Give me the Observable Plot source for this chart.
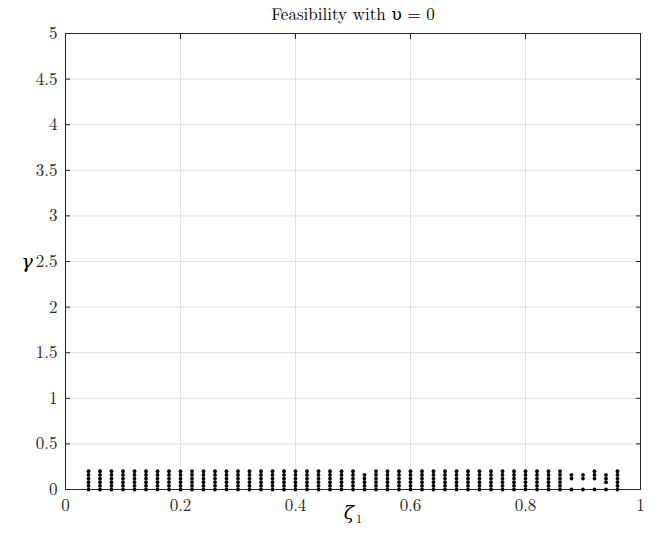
<!DOCTYPE html>
<html>
<head>
<meta charset="utf-8">
<script src="https://cdn.jsdelivr.net/npm/d3@7"></script>
<script src="https://cdn.jsdelivr.net/npm/@observablehq/plot@0.6"></script>
<style>
  html, body { margin: 0; padding: 0; background: #fff; }
  #chart svg { display: block; }
</style>
</head>
<body>
<div id="chart"></div>
<script>
// zeta_1 grid columns
const zeta = [0.04, 0.06, 0.08, 0.10, 0.12, 0.14, 0.16, 0.18, 0.20, 0.22, 0.24, 0.26,
  0.28, 0.30, 0.32, 0.34, 0.36, 0.38, 0.40, 0.42, 0.44, 0.46, 0.48, 0.50, 0.52, 0.54,
  0.56, 0.58, 0.60, 0.62, 0.64, 0.66, 0.68, 0.70, 0.72, 0.74, 0.76, 0.78, 0.80, 0.82,
  0.84, 0.86, 0.88, 0.90, 0.92, 0.94, 0.96];
// gamma levels that are feasible in a full column
const gammaFull = [0, 0.04, 0.08, 0.12, 0.16, 0.20];
// columns with only part of the levels feasible
const partialZeta = [0.52, 0.88, 0.90, 0.92, 0.94];
const partialGamma = [
  [0, 0.04, 0.08, 0.12, 0.16],
  [0, 0.12, 0.16],
  [0, 0.12, 0.16],
  [0, 0.12, 0.16, 0.20],
  [0, 0.08, 0.12, 0.16]
];
const xTicks = [0, 0.2, 0.4, 0.6, 0.8, 1];
const yTicks = [0, 0.5, 1, 1.5, 2, 2.5, 3, 3.5, 4, 4.5, 5];

const points = [];
for (const z of zeta) {
  const k = partialZeta.indexOf(z);
  const levels = k >= 0 ? partialGamma[k] : gammaFull;
  for (const g of levels) points.push({zeta: z, gamma: g});
}

const font = "'Latin Modern Roman', 'CMU Serif', 'DejaVu Serif', serif";
const noLabel = () => "";
const fmt = d => String(+d.toFixed(2));

const chart = Plot.plot({
  width: 659,
  height: 541,
  marginLeft: 65,
  marginRight: 19,
  marginTop: 33,
  marginBottom: 52,
  style: {fontFamily: font, fontSize: "17px", color: "#262626", background: "#fff"},
  x: {domain: [0, 1], label: null},
  y: {domain: [0, 5], label: null},
  marks: [
    Plot.gridX(xTicks, {stroke: "#262626", strokeOpacity: 0.13, strokeWidth: 1}),
    Plot.gridY(yTicks, {stroke: "#262626", strokeOpacity: 0.13, strokeWidth: 1}),
    Plot.axisX(xTicks, {tickSize: 0, tickPadding: 9, tickFormat: fmt, fontSize: 17, fill: "#262626"}),
    Plot.axisY(yTicks, {tickSize: 0, tickPadding: 8, tickFormat: fmt, fontSize: 17, fill: "#262626"}),
    Plot.axisX(xTicks, {anchor: "bottom", tickSize: -5, tickFormat: noLabel}),
    Plot.axisX(xTicks, {anchor: "top", tickSize: -5, tickFormat: noLabel}),
    Plot.axisY(yTicks, {anchor: "left", tickSize: -5, tickFormat: noLabel}),
    Plot.axisY(yTicks, {anchor: "right", tickSize: -5, tickFormat: noLabel}),
    Plot.frame({stroke: "#262626", strokeWidth: 1}),
    Plot.dot(points, {x: "zeta", y: "gamma", r: 1.9, fill: "black", stroke: "none"}),
    Plot.text(["Feasibility with υ = 0"], {frameAnchor: "top", dy: -19, lineAnchor: "middle", fontSize: 17, fill: "black", fontFamily: font}),
    Plot.text(["γ"], {frameAnchor: "left", dx: -44, fontSize: 19, fontStyle: "italic", fill: "black", fontFamily: font}),
    Plot.text(["ζ"], {frameAnchor: "bottom", dx: -4, dy: 29, fontSize: 19, fontStyle: "italic", fill: "black", fontFamily: font}),
    Plot.text(["1"], {frameAnchor: "bottom", dx: 6, dy: 33, fontSize: 12, fill: "black", fontFamily: font})
  ]
});
document.getElementById("chart").appendChild(chart);
</script>
</body>
</html>
